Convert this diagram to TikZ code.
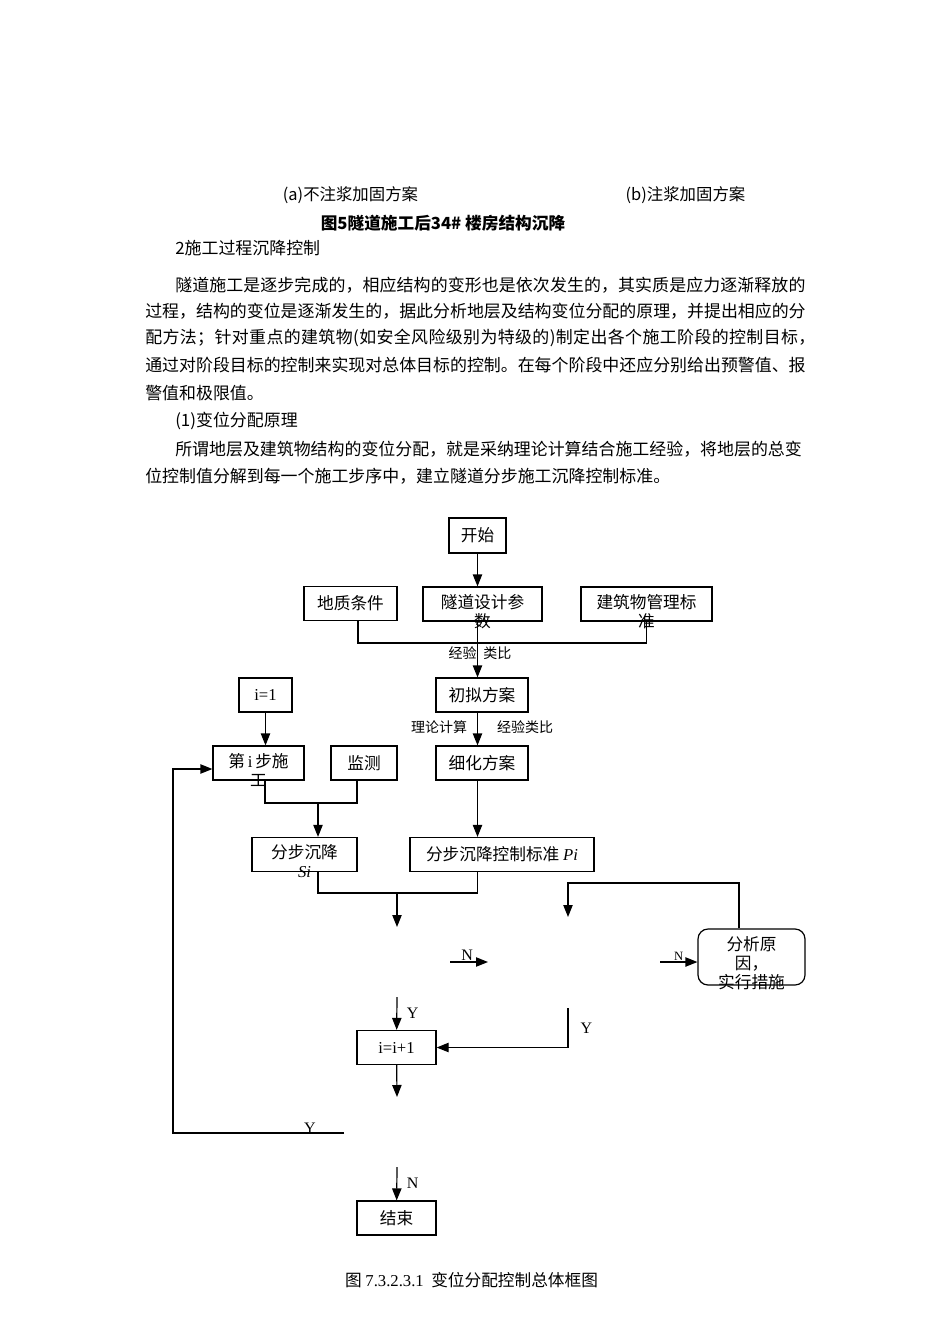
\documentclass[tikz,border=0pt]{standalone}
\usepackage{fontspec}
\setmainfont{Liberation Serif}
\newfontfamily\zh{Noto Sans CJK SC}
\usetikzlibrary{arrows.meta, positioning}
\tikzset{
  pbox/.style={draw, line width=.9pt, inner sep=0pt, minimum height=25.5pt,
    font=\zh\fontsize{12.5}{14.25}\selectfont},
  boxtext/.style={anchor=north, align=center, inner sep=0pt, yshift=-5.5pt,
    font=\zh\fontsize{12.5}{14.25}\selectfont},
  body/.style={anchor=west, inner sep=0pt, font=\zh\fontsize{12.7}{15}\selectfont},
  lbl/.style={inner sep=1pt, font=\zh\fontsize{10.5}{12}\selectfont},
  yn/.style={inner sep=1pt, font=\fontsize{12}{14}\selectfont},
  flow/.style={-{Triangle[length=9pt, width=7pt]}, line width=.9pt},
  link/.style={line width=.9pt},
}
\begin{document}
\begin{tikzpicture}[x=0.75pt, y=-0.75pt]
  \fill[white] (0,0) rectangle (950,1344);
  \useasboundingbox (0,0) rectangle (950,1344);
  % text of the page above the chart
  \node[font=\zh\fontsize{12.3}{14}\selectfont] (capa) at (350.5,195) {(a)不注浆加固方案};
  \node[font=\zh\fontsize{12.3}{14}\selectfont] (capb) at (685.5,195) {(b)注浆加固方案};
  \node[font=\zh\bfseries\fontsize{12.5}{14}\selectfont] (fig5) at (443,223) {图5隧道施工后34\# 楼房结构沉降};
  \node[body] (sec2) at (175,248) {2施工过程沉降控制};
  \node[body] (p1) at (175,285) {\addfontfeature{LetterSpace=0.6}隧道施工是逐步完成的，相应结构的变形也是依次发生的，其实质是应力逐渐释放的};
  \node[body] (p2) at (145,311) {过程，结构的变位是逐渐发生的，据此分析地层及结构变位分配的原理，并提出相应的分};
  \node[body] (p3) at (145,338) {\addfontfeature{LetterSpace=2.3}配方法；针对重点的建筑物(如安全风险级别为特级的)制定出各个施工阶段的控制目标，};
  \node[body] (p4) at (145,365) {通过对阶段目标的控制来实现对总体目标的控制。在每个阶段中还应分别给出预警值、报};
  \node[body] (p5) at (145,393) {警值和极限值。};
  \node[body] (sub1) at (175,421) {(1)变位分配原理};
  \node[body] (q1) at (175,449) {所谓地层及建筑物结构的变位分配，就是采纳理论计算结合施工经验，将地层的总变};
  \node[body] (q2) at (145,476) {位控制值分解到每一个施工步序中，建立隧道分步施工沉降控制标准。};

  % upper part: design
  \node[pbox, minimum width=42.75pt, minimum height=26.25pt] (start) at (477.5,535.5) {开始};
  \node[pbox, minimum width=69.75pt] (geo) at (350.5,603.5) {地质条件};
  \node[pbox, minimum width=89.25pt] (tunnel) at (482.5,604) {};
  \node[boxtext] at (tunnel.north) {隧道设计参\\数};
  \node[pbox, minimum width=98.25pt] (bldg) at (646.5,604) {};
  \node[boxtext] at (bldg.north) {建筑物管理标\\准};
  \node[pbox, minimum width=69pt] (draft) at (482,695) {初拟方案};
  \node[pbox, minimum width=69pt] (refine) at (482,763) {细化方案};
  \node[pbox, minimum width=138pt] (crit) at (502,854.5) {分步沉降控制标准 {\rmfamily\itshape Pi}};
  % left part: construction steps
  \node[pbox, minimum width=39.75pt] (init) at (265.5,695) {\rmfamily i=1};
  \node[pbox, minimum width=68.25pt] (stepi) at (258.5,763) {};
  \node[boxtext] at (stepi.north) {第\,{\rmfamily i}\,步施\\工};
  \node[pbox, minimum width=49.5pt] (monitor) at (364,763) {监测};
  \node[pbox, minimum width=78.75pt] (settle) at (304.5,854.5) {};
  \node[boxtext] at (settle.north) {分步沉降\\{\rmfamily\itshape Si}};
  % lower part: checks
  \node[pbox, rounded corners=7.5pt, minimum width=80.25pt, minimum height=42pt] (cause) at (751.5,957) {};
  \node[boxtext] at (cause.north) {分析原\\因，\\实行措施};
  \node[pbox, minimum width=59.25pt] (incr) at (396.5,1047.5) {\rmfamily i=i+1};
  \node[pbox, minimum width=59.25pt] (stop) at (396.5,1218) {结束};

  \coordinate (m0) at (477.5,643);
  \coordinate (m1) at (318,803);
  \coordinate (m2) at (397,893);
  \coordinate (d1) at (397,927);
  \coordinate (d1w) at (450,962);
  \coordinate (d1e) at (488,962);
  \coordinate (d1s) at (397,997);
  \coordinate (top) at (568,883);
  \coordinate (d2) at (568,917);
  \coordinate (d2e) at (660,962);
  \coordinate (d2s) at (568,1008);
  \coordinate (d3) at (397,1097);
  \coordinate (d3w) at (344,1133);
  \coordinate (back) at (173,1133);
  \coordinate (d3s) at (397,1167);

  \draw[flow] (start) -- (start |- tunnel.north);
  \draw[link] ([xshift=5.6pt]geo.south) |- (m0) -| (bldg.south);
  \draw[flow] (start |- tunnel.south) -- (start |- draft.north);
  \node[lbl] (exp1) at (480,653) {经验\hspace{5pt}类比};
  \draw[flow] (start |- draft.south) -- (start |- refine.north);
  \node[lbl] (calc) at (439,727) {理论计算};
  \node[lbl] (exp2) at (525,727) {经验类比};
  \draw[flow] (start |- refine.south) -- (start |- crit.north);

  \draw[flow] (init) -- (init |- stepi.north);
  \draw[link] ([xshift=4.9pt]stepi.south) |- (m1) -| ([xshift=-5.3pt]monitor.south);
  \draw[flow] (m1) -- (m1 |- settle.north);
  \draw[link] (m1 |- settle.south) |- (m2) -| (start |- crit.south);
  \draw[flow] (m2) -- (d1);

  \draw[flow] (d1w) -- node[yn, above, pos=.45] {N} (d1e);
  \draw[flow] ([xshift=-9.4pt]cause.north) |- (top) -- (d2);
  \draw[flow] (d2e) -- node[yn, above, font=\fontsize{9.5}{11}\selectfont] {N} (d2e -| cause.west);
  \draw[flow] (d1s) -- node[yn, right=6pt] {Y} (incr);
  \draw[flow] (d2s) |- node[yn, pos=.25, right=8pt] {Y} (incr.east);
  \draw[flow] (incr) -- (d3);
  \draw[flow] (d3w) -- node[yn, pos=.2, above=-1.5pt] {Y} (back) |- ([yshift=-4.5pt]stepi.west);
  \draw[flow] (d3s) -- node[yn, right=6pt] {N} (stop);

  \node[font=\zh\fontsize{12.5}{14}\selectfont] (cap) at (471.5,1280)
       {图 {\rmfamily 7.3.2.3.1}\ \ 变位分配控制总体框图};
\end{tikzpicture}
\end{document}
